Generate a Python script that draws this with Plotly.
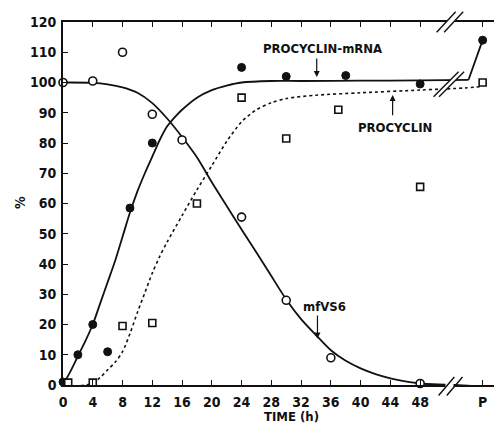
import plotly.graph_objects as go

# ---------------- data ----------------
P_POS = 56.4  # axis position of the "P" category

x_tickvals = [0, 4, 8, 12, 16, 20, 24, 28, 32, 36, 40, 44, 48, P_POS]
x_ticktext = ["0", "4", "8", "12", "16", "20", "24", "28", "32", "36", "40", "44", "48", "P"]
y_tickvals = [0, 10, 20, 30, 40, 50, 60, 70, 80, 90, 100, 110, 120]

# measured points
mfvs6_t = [0, 4, 8, 12, 16, 24, 30, 36, 48, P_POS]
mfvs6_v = [100, 100.5, 110, 89.5, 81, 55.5, 28, 9, 0.5, -0.5]

mrna_t = [0, 2, 4, 6, 9, 12, 24, 30, 38, 48, P_POS]
mrna_v = [1, 10, 20, 11, 58.5, 80, 105, 102, 102.3, 99.5, 114]

procyclin_t = [0.7, 4, 8, 12, 18, 24, 30, 37, 48, P_POS]
procyclin_v = [0.8, 0.8, 19.5, 20.5, 60, 95, 81.5, 91, 65.5, 100]

# hand-drawn curves
mfvs6_fit_t = [0, 4, 6, 8, 10, 12, 14, 16, 18, 20, 22, 24, 26, 28, 30, 32, 34, 36,
               38, 40, 42, 44, 46, 48, 52, P_POS]
mfvs6_fit_v = [100, 99.9, 99.4, 98.4, 96.6, 93.2, 88.1, 82, 75.3, 67, 59.2, 51.4, 43.8,
               36, 28.3, 21.8, 16.5, 11.5, 8, 5.5, 3.6, 2.2, 1.2, 0.5, 0.1, -0.5]

mrna_fit_t = [0, 1, 2, 3, 4, 5, 6, 7, 8, 9, 10, 11, 12, 13, 14, 15, 16, 18, 20, 22,
              24, 28, 32, 40, 48, 54.5]
mrna_fit_v = [0, 4.5, 9.5, 14.5, 20, 27, 34, 41, 49, 57, 64, 70, 75.5, 81, 85.5, 88.5,
              91, 95, 97.5, 99, 100, 100.5, 100.5, 100.6, 100.7, 100.9]
mrna_link_t = [54.5, P_POS]
mrna_link_v = [100.9, 114]

procyclin_fit_t = [0, 1, 2, 3, 4, 5, 6, 7, 8, 9, 10, 11, 12, 13, 14, 16, 18, 20, 22,
                   24, 26, 28, 30, 34, 40, 48, 54, P_POS]
procyclin_fit_v = [0, -0.3, -0.3, 0, 0.7, 2.5, 5, 7.5, 11, 17, 24, 30.5, 37, 42.5,
                   47.3, 56, 64.5, 72.5, 80.5, 87, 91, 93.3, 94.7, 95.8, 96.6, 97.5,
                   98.2, 98.7]

BREAK_T = 52.0      # axis break position (h)
LINE_BREAK_V = 99.4  # where the curves are broken

# ---------------- layout constants ----------------
OFF = 8                     # default page (body) margin in the browser
W, H = 502 - OFF, 424 - OFF
ML, MR, MT, MB = 63 - OFF, 0, 22 - OFF, 39
X_RANGE = [0, 59]
Y_RANGE = [0, 120]
PW, PH = W - ML - MR, H - MT - MB
PLOT_LEFT_PAGE, PLOT_BOTTOM_PAGE = OFF + ML, OFF + H - MB

FONT = "DejaVu Sans Condensed, Liberation Sans Narrow, sans-serif"
INK = "#111111"

fig = go.Figure()

# curves
fig.add_trace(go.Scatter(x=mfvs6_fit_t, y=mfvs6_fit_v, mode="lines",
                         line=dict(color=INK, width=1.8, shape="spline", smoothing=0.8),
                         hoverinfo="skip", showlegend=False))
fig.add_trace(go.Scatter(x=mrna_fit_t, y=mrna_fit_v, mode="lines",
                         line=dict(color=INK, width=1.8, shape="spline", smoothing=0.8),
                         hoverinfo="skip", showlegend=False))
fig.add_trace(go.Scatter(x=mrna_link_t, y=mrna_link_v, mode="lines",
                         line=dict(color=INK, width=1.8),
                         hoverinfo="skip", showlegend=False))
fig.add_trace(go.Scatter(x=procyclin_fit_t, y=procyclin_fit_v, mode="lines",
                         line=dict(color=INK, width=1.6, dash="dot", shape="spline", smoothing=0.8),
                         hoverinfo="skip", showlegend=False))

# markers
fig.add_trace(go.Scatter(x=mfvs6_t, y=mfvs6_v, mode="markers", name="mfVS6",
                         marker=dict(symbol="circle", size=8, color="white",
                                     line=dict(color=INK, width=1.6)),
                         cliponaxis=False, showlegend=False))
fig.add_trace(go.Scatter(x=mrna_t, y=mrna_v, mode="markers", name="PROCYCLIN-mRNA",
                         marker=dict(symbol="circle", size=8, color=INK,
                                     line=dict(color=INK, width=1)),
                         cliponaxis=False, showlegend=False))
fig.add_trace(go.Scatter(x=procyclin_t, y=procyclin_v, mode="markers", name="PROCYCLIN",
                         marker=dict(symbol="square", size=7, color="white",
                                     line=dict(color=INK, width=1.6)),
                         cliponaxis=False, showlegend=False))


# ---------------- break marks ("//") ----------------
def to_paper(t, v):
    """data -> paper coordinates"""
    return ((t - X_RANGE[0]) / (X_RANGE[1] - X_RANGE[0]),
            (v - Y_RANGE[0]) / (Y_RANGE[1] - Y_RANGE[0]))


shapes = []
annotations = []


def add_break(t, v, half_dx, half_dy, sep, dy_px=0.0, as_annotation=False):
    cx, cy = to_paper(t, v)
    cy -= dy_px / PH
    hx, hy, s = half_dx / PW, half_dy / PH, sep / PW
    c1, c2 = cx - s / 2, cx + s / 2
    if not as_annotation:
        path = (f"M {c1 - hx:.5f},{cy - hy:.5f} L {c1 + hx:.5f},{cy + hy:.5f} "
                f"L {c2 + hx:.5f},{cy + hy:.5f} L {c2 - hx:.5f},{cy - hy:.5f} Z")
        shapes.append(dict(type="path", path=path, xref="paper", yref="paper",
                           fillcolor="white", line=dict(width=0), layer="above"))
        for c in (c1, c2):
            shapes.append(dict(type="line", xref="paper", yref="paper",
                               x0=round(c - hx, 5), y0=round(cy - hy, 5),
                               x1=round(c + hx, 5), y1=round(cy + hy, 5),
                               line=dict(color=INK, width=1.4), layer="above"))
    else:
        # white gap in the axis line between the two strokes
        annotations.append(dict(x=cx, y=cy + dy_px / PH, xref="paper", yref="paper",
                                text=" ", showarrow=False, bgcolor="white",
                                width=sep - 1, height=4, borderpad=0,
                                xanchor="center", yanchor="middle"))
        for c in (c1, c2):
            annotations.append(dict(x=c + hx, y=cy + hy, ax=-2 * half_dx, ay=2 * half_dy,
                                    xref="paper", yref="paper",
                                    axref="pixel", ayref="pixel",
                                    text="", showarrow=True, arrowhead=0,
                                    arrowwidth=1.4, arrowcolor=INK,
                                    standoff=0, startstandoff=0))


add_break(BREAK_T, Y_RANGE[1], 9.5, 10.3, 7.5)
add_break(BREAK_T, Y_RANGE[0], 8.5, 10, 8.2, dy_px=2, as_annotation=True)
add_break(BREAK_T - 0.15, LINE_BREAK_V, 12.5, 12.5, 5.5)

# ---------------- annotations ----------------
ann_font = dict(family=FONT, size=13, color=INK, weight="bold")
annotations += [
    dict(x=34.9, y=111.1, text="PROCYCLIN-mRNA", showarrow=False, font=ann_font),
    dict(x=44.6, y=85.0, text="PROCYCLIN", showarrow=False, font=ann_font),
    dict(x=35.1, y=26.1, text="mfVS6", showarrow=False, font=ann_font),
    # arrows
    dict(x=34.1, y=101.8, ax=34.1, ay=108.4, axref="x", ayref="y", text="",
         showarrow=True, arrowhead=2, arrowsize=1, arrowwidth=1.2, arrowcolor=INK),
    dict(x=44.3, y=95.9, ax=44.3, ay=88.7, axref="x", ayref="y", text="",
         showarrow=True, arrowhead=2, arrowsize=1, arrowwidth=1.2, arrowcolor=INK),
    dict(x=34.2, y=15.4, ax=34.2, ay=23.5, axref="x", ayref="y", text="",
         showarrow=True, arrowhead=2, arrowsize=1, arrowwidth=1.2, arrowcolor=INK),
    # x-axis title
    dict(x=(291 - PLOT_LEFT_PAGE) / PW, y=-(416 - PLOT_BOTTOM_PAGE) / PH,
         xref="paper", yref="paper",
         text="TIME (h)", showarrow=False, yanchor="middle",
         font=dict(family=FONT, size=13, color=INK, weight="bold")),
    # y-axis title
    dict(x=-(PLOT_LEFT_PAGE - 20) / PW, y=(PLOT_BOTTOM_PAGE - 203) / PH,
         xref="paper", yref="paper",
         text="%", showarrow=False, textangle=-90, xanchor="center", yanchor="middle",
         font=dict(family=FONT, size=14, color=INK, weight="bold")),
]

tick_font = dict(family=FONT, size=14, color=INK, weight="bold")

fig.update_layout(
    width=W, height=H,
    margin=dict(l=ML, r=MR, t=MT, b=MB, pad=0, autoexpand=False),
    paper_bgcolor="white", plot_bgcolor="white",
    showlegend=False,
    shapes=shapes,
    annotations=annotations,
    xaxis=dict(range=X_RANGE, tickvals=x_tickvals, ticktext=x_ticktext,
               ticks="inside", ticklen=5, tickwidth=1.3, tickcolor=INK,
               showline=True, linecolor=INK, linewidth=1.6, mirror="ticks",
               showgrid=False, zeroline=False, tickfont=tick_font,
               automargin=False, ticklabelstandoff=3),
    yaxis=dict(range=Y_RANGE, tickvals=y_tickvals,
               ticks="inside", ticklen=5, tickwidth=1.3, tickcolor=INK,
               showline=True, linecolor=INK, linewidth=1.6,
               showgrid=False, zeroline=False, tickfont=tick_font,
               automargin=False, ticklabelstandoff=2),
)

fig.write_html("out.html")
